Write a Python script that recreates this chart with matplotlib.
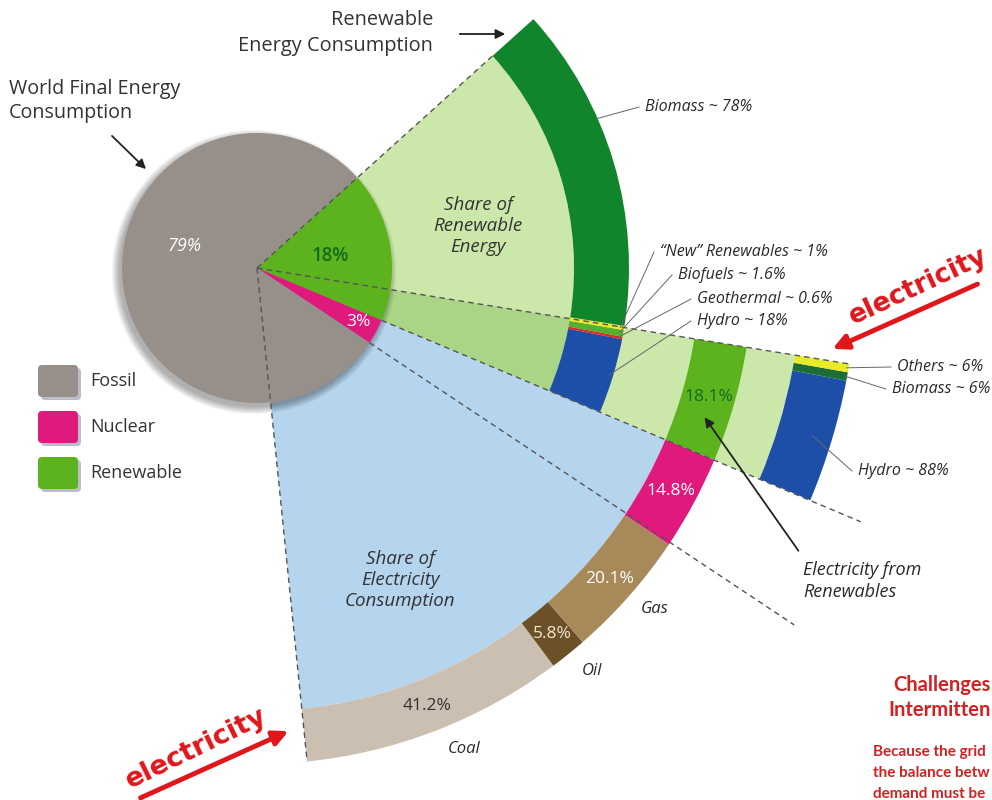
import numpy as np
import matplotlib.pyplot as plt
from matplotlib.patches import Wedge, Circle, FancyBboxPatch

# ---- data ----
world_labels = ['Fossil', 'Nuclear', 'Renewable']
world_share = [79, 3, 18]

# renewable energy consumption, listed from the lower edge of the fan upwards
renew_labels = ['Hydro', 'Geothermal', 'Biofuels', '\u201cNew\u201d Renewables', 'Biomass']
renew_share = [18, 0.6, 1.6, 1, 78]

# electricity consumption, from the lower-left edge upwards
elec_labels = ['Coal', 'Oil', 'Gas', 'Nuclear', 'Renewables']
elec_share = [41.2, 5.8, 20.1, 14.8, 18.1]

# electricity from renewables, lower edge upwards
relec_labels = ['Hydro', 'Biomass', 'Others']
relec_share = [88, 6, 6]

# side note, cut by the right edge in the original
note_title = ['Challenges', 'Intermitten']
note_body = ['Because the grid', 'the balance betw', 'demand must be']

# ---- colours ----
c_fossil, c_nuclear, c_renew = '#968f8a', '#e0197d', '#5cb31e'
c_lightgreen, c_midgreen, c_lightblue = '#cbe7aa', '#aad486', '#b5d4ee'
renew_colors = ['#1e4fa8', '#e5262b', '#55b030', '#e8ea2a', '#11852b']
elec_colors = ['#cbbfb2', '#6b5028', '#a88a5a', c_nuclear, c_renew]
relec_colors = ['#1e4fa8', '#1d6e35', '#e8ea2a']
red = '#e0161b'
txt = '#2a2a2a'

plt.rcParams['font.family'] = ['Open Sans', 'DejaVu Sans']

fig = plt.figure(figsize=(9.92, 8), dpi=100)
ax = fig.add_axes([0, 0, 1, 1])
ax.set_xlim(0, 992)
ax.set_ylim(0, 800)
ax.set_aspect('equal')
ax.axis('off')

H = 800
C = (257, H - 268)


def pol(r, ang):
    a = np.radians(ang)
    return C[0] + r * np.cos(a), C[1] + r * np.sin(a)


def px(x, y):
    return x, H - y


def ring(values, colors, r_in, r_out, a0, a1):
    total = sum(values)
    a = a0
    mids = []
    for v, col in zip(values, colors):
        da = (a1 - a0) * v / total
        ax.add_patch(Wedge(C, r_out, a, a + da, width=r_out - r_in,
                           facecolor=col, edgecolor='none', zorder=3))
        mids.append(a + da / 2)
        a += da
    return mids


# angles of the pie
ren_top = 42
ren_bot = ren_top - 360 * world_share[2] / 100
nuc_bot = ren_bot - 360 * world_share[1] / 100

# electricity fan
el_top, el_span = -9.2, 75
el_bot = el_top - el_span
el_ren_bot = el_top - el_span * elec_share[4] / sum(elec_share)

R_pie = 135
R_ren_in, R_ren_out = 317, 372
R_el_in, R_el_out = 443, 496
R_sub_in, R_sub_out = 545, 600

# fans
ax.add_patch(Wedge(C, R_el_in, el_bot, el_ren_bot, facecolor=c_lightblue, edgecolor='none', zorder=1))
ax.add_patch(Wedge(C, R_sub_in, el_ren_bot, el_top, facecolor=c_lightgreen, edgecolor='none', zorder=1))
ax.add_patch(Wedge(C, R_ren_in, ren_bot, ren_top, facecolor=c_lightgreen, edgecolor='none', zorder=1))
ax.add_patch(Wedge(C, R_ren_in, el_ren_bot, el_top, facecolor=c_midgreen, edgecolor='none', zorder=2))

# rings
ren_mids = ring(renew_share, renew_colors, R_ren_in, R_ren_out, ren_bot, ren_top)
el_mids = ring(elec_share, elec_colors, R_el_in, R_el_out, el_bot, el_top)
sub_mids = ring(relec_share, relec_colors, R_sub_in, R_sub_out, el_ren_bot, el_top)

# dashed guide lines
for ang, r0, r1 in [(ren_top, 0, R_ren_in), (el_top, 0, R_sub_out), (ren_bot, R_pie, 655),
                    (nuc_bot, R_pie, 645), (el_bot, 0, R_el_out)]:
    x0, y0 = pol(r0, ang)
    x1, y1 = pol(r1, ang)
    ax.plot([x0, x1], [y0, y1], color='#555555', lw=1, ls=(0, (4, 3)), zorder=6)

# pie with soft shadow
for k in range(8):
    ax.add_patch(Circle((C[0] - 3, C[1] - 4), R_pie + k, facecolor='black', alpha=0.045,
                        edgecolor='none', zorder=4))
ax.add_patch(Wedge(C, R_pie, ren_bot, ren_top, facecolor=c_renew, edgecolor='none', zorder=5))
ax.add_patch(Wedge(C, R_pie, nuc_bot, ren_bot, facecolor=c_nuclear, edgecolor='none', zorder=5))
ax.add_patch(Wedge(C, R_pie, ren_top, nuc_bot + 360, facecolor=c_fossil, edgecolor='none', zorder=5))

# pie labels
x, y = pol(76, 163)
ax.text(x, y, f'{world_share[0]}%', color='white', fontsize=13, style='italic', ha='center', va='center', zorder=7)
x, y = pol(74, (ren_top + ren_bot) / 2)
ax.text(x, y, f'{world_share[2]}%', color='#136b1e', fontsize=13.5, fontweight='semibold',
        ha='center', va='center', zorder=7)
x, y = pol(115, (ren_bot + nuc_bot) / 2)
ax.text(x, y, f'{world_share[1]}%', color='white', fontsize=12.5, ha='center', va='center', zorder=7)

# electricity ring labels
el_txt_colors = ['#333333', '#f0e6d0', 'white', 'white', '#136b1e']
for v, m, col in zip(elec_share, el_mids, el_txt_colors):
    x, y = pol(470, m)
    ax.text(x, y, f'{v}%', color=col, fontsize=12.5, ha='center', va='center', zorder=7)
for name, m in zip(elec_labels[:3], el_mids[:3]):
    x, y = pol(524, m + (2 if name == 'Coal' else 0.8))
    ax.text(x, y, name, fontsize=12, style='italic', color=txt, ha='center', va='center', zorder=7)

# renewable ring labels
lbl_pos = {0: (697, 321), 1: (697, 299), 2: (678, 275), 3: (660, 252), 4: (645, 107)}
for i, (name, v) in enumerate(zip(renew_labels, renew_share)):
    tx, ty = px(*lbl_pos[i])
    if i == 4:
        x0, y0 = pol(R_ren_out, 23.7)
    else:
        x0, y0 = pol(R_ren_out - 4, ren_mids[i])
    ax.plot([x0, tx - 6], [y0, ty], color='#666666', lw=0.7, zorder=7)
    ax.text(tx, ty, f'{name} ~ {v:g}%', fontsize=11.5, style='italic', color=txt,
            ha='left', va='center', zorder=7)

sub_pos = {0: (858, 471), 1: (892, 389), 2: (897, 367)}
for i, (name, v) in enumerate(zip(relec_labels, relec_share)):
    tx, ty = px(*sub_pos[i])
    x0, y0 = pol(R_sub_out - (20 if i == 0 else 2), sub_mids[i])
    ax.plot([x0, tx - 6], [y0, ty], color='#666666', lw=0.7, zorder=7)
    ax.text(tx, ty, f'{name} ~ {v}%', fontsize=11.5, style='italic', color=txt,
            ha='left', va='center', zorder=7)

# headings
ax.text(*px(9, 101), 'World Final Energy\nConsumption', fontsize=14.2, color='#333333',
        ha='left', va='center', linespacing=1.3)
ax.annotate('', xy=px(148, 171), xytext=px(110, 134),
            arrowprops=dict(arrowstyle='-|>', color='#222222', lw=1.3, mutation_scale=14))
ax.text(*px(433, 33), 'Renewable\nEnergy Consumption', fontsize=14.4, color='#333333',
        ha='right', va='center', linespacing=1.35, multialignment='right')
ax.annotate('', xy=px(508, 34), xytext=px(457, 34),
            arrowprops=dict(arrowstyle='-|>', color='#222222', lw=1.3, mutation_scale=14))

ax.text(*px(478, 226), 'Share of\nRenewable\nEnergy', fontsize=13.5, style='italic', color='#333333',
        ha='center', va='center', linespacing=1.2, zorder=7)
ax.text(*px(400, 580), 'Share of\nElectricity\nConsumption', fontsize=13.5, style='italic',
        color='#333333', ha='center', va='center', linespacing=1.25, zorder=7)

ax.text(*px(803, 581), 'Electricity from\nRenewables', fontsize=13, style='italic', color=txt,
        ha='left', va='center', linespacing=1.3, zorder=7)
ax.annotate('', xy=px(703, 415), xytext=px(800, 553),
            arrowprops=dict(arrowstyle='-|>', color='#222222', lw=1.3, mutation_scale=14), zorder=8)

# legend
for i, (name, col) in enumerate(zip(world_labels, [c_fossil, c_nuclear, c_renew])):
    yb = 381 + i * 46
    x0, y0 = px(38, yb + 16)
    ax.add_patch(FancyBboxPatch((x0 + 3, y0 - 3), 40, 32, boxstyle='round,pad=0,rounding_size=4',
                                facecolor='#444466', alpha=0.35, edgecolor='none'))
    ax.add_patch(FancyBboxPatch((x0, y0), 40, 32, boxstyle='round,pad=0,rounding_size=4',
                                facecolor=col, edgecolor='none'))
    ax.text(*px(90, yb), name, fontsize=13, color='#333333', ha='left', va='center')

# red "electricity" arrows
ax.annotate('', xy=px(830, 350), xytext=px(980, 283),
            arrowprops=dict(arrowstyle='-|>', color=red, lw=3.5, mutation_scale=22))
ax.text(*px(918, 287), 'electricity', fontsize=19, fontweight='bold', color=red, rotation=25,
        ha='center', va='center', family='DejaVu Sans')
ax.annotate('', xy=px(291, 730), xytext=px(138, 799),
            arrowprops=dict(arrowstyle='-|>', color=red, lw=3.5, mutation_scale=22))
ax.text(*px(196, 749), 'electricity', fontsize=19.5, fontweight='bold', color=red, rotation=26,
        ha='center', va='center', family='DejaVu Sans')

# side note
for j, (line, x0) in enumerate(zip(note_title, [893, 888])):
    ax.text(x0, H - 685 - 25 * j, line, fontsize=14.5, fontweight='bold', color='#d42020',
            ha='left', va='center', family=['Lato', 'DejaVu Sans'])
for j, line in enumerate(note_body):
    ax.text(873, H - 752 - 21 * j, line, fontsize=11, fontweight='bold', color='#d42020',
            ha='left', va='center', family=['Lato', 'DejaVu Sans'])

fig.savefig('out.png', dpi=100)
